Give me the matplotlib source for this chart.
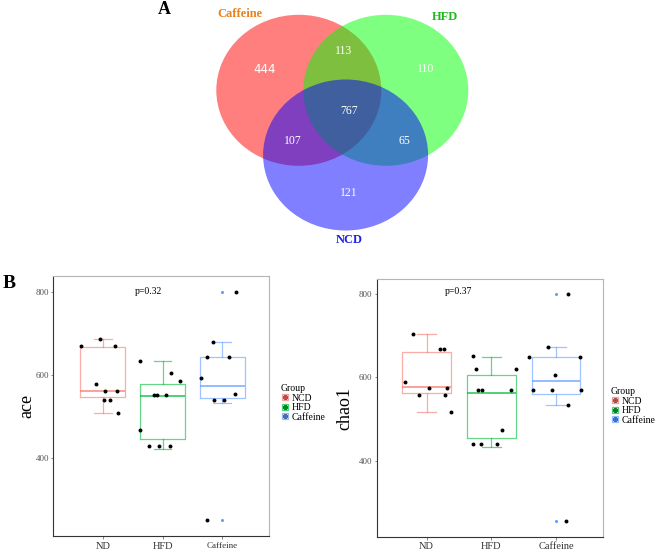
import matplotlib
matplotlib.use("Agg")
import matplotlib.pyplot as plt
from matplotlib.patches import Ellipse
from matplotlib.lines import Line2D

plt.rcParams["font.family"] = ["Liberation Serif", "DejaVu Serif"]

# ---- Venn counts (panel A) ----
venn_sets = ["Caffeine", "HFD", "NCD"]
venn_label_colors = ["#E8821E", "#1DB81D", "#1F1FE0"]
venn_fill = ["#FF0000", "#00FF00", "#0000FF"]
venn_regions = ["Caffeine", "Caffeine&HFD", "HFD", "all", "Caffeine&NCD", "HFD&NCD", "NCD"]
venn_counts = [444, 113, 110, 767, 107, 65, 121]

# ---- boxplot data (panel B) ----
groups = ["ND", "HFD", "Caffeine"]
legend_labels = ["NCD", "HFD", "Caffeine"]
group_colors = ["#F8766D", "#00BA38", "#619CFF"]

ace_q1 = [547, 446, 546]
ace_med = [562, 551, 574]
ace_q3 = [667, 578, 643]
ace_lo = [509, 422, 533]
ace_hi = [688, 634, 680]
ace_fliers = [[], [], [800, 253]]
ace_x = [
    [0.64, 0.96, 1.21, 0.89, 1.03, 1.23, 1.02, 1.12, 1.26],
    [1.63, 2.14, 2.30, 1.85, 1.91, 2.05, 1.62, 1.78, 1.94, 2.12],
    [2.84, 2.74, 3.12, 2.65, 2.87, 3.03, 3.22, 2.75, 3.23],
]
ace_y = [
    [669, 688, 669, 579, 562, 562, 541, 541, 509],
    [635, 604, 586, 552, 552, 552, 468, 431, 431, 431],
    [680, 643, 643, 594, 541, 541, 555, 253, 800],
]
ace_p = "p=0.32"

chao_q1 = [562, 454, 560]
chao_med = [578, 562, 591]
chao_q3 = [661, 606, 650]
chao_lo = [516, 432, 533]
chao_hi = [703, 650, 672]
chao_fliers = [[], [], [801, 255]]
chao_x = [
    [0.79, 1.21, 1.27, 0.66, 1.04, 1.32, 0.89, 1.29, 1.37],
    [1.71, 1.76, 2.38, 1.80, 1.85, 2.30, 2.16, 1.71, 1.84, 2.08],
    [2.87, 2.58, 3.37, 2.99, 2.64, 2.94, 3.38, 3.19, 3.19, 3.15],
]
chao_y = [
    [703, 668, 668, 589, 575, 575, 557, 557, 516],
    [651, 620, 620, 569, 569, 569, 473, 441, 441, 441],
    [672, 650, 650, 606, 569, 569, 569, 533, 801, 255],
]
chao_p = "p=0.37"

fig = plt.figure(figsize=(6.6, 5.54), dpi=100)

# ---- panel A: Venn drawn in a pixel-space overlay axes ----
vax = fig.add_axes([0, 0, 1, 1])
vax.set_xlim(0, 660)
vax.set_ylim(554, 0)
vax.axis("off")
vax.patch.set_alpha(0)

ellipse_centers = [(298.8, 90.3), (385.8, 90.3), (345.6, 155)]
for (cx, cy), col in zip(ellipse_centers, venn_fill):
    vax.add_patch(Ellipse((cx, cy), 165, 151, facecolor=col, alpha=0.5, edgecolor="none"))

region_pos = [(265, 69.5), (344, 50.5), (426, 69.5), (349, 111), (292.5, 140.5), (404.5, 140.5), (349, 192.5)]
for name, cnt, (px, py) in zip(venn_regions, venn_counts, region_pos):
    if name == "Caffeine":
        vax.text(px, py, str(cnt), color="white", fontsize=8.5, ha="center", va="center",
                 family="DejaVu Sans")
    else:
        vax.text(px, py, str(cnt), color="white", fontsize=8.5, ha="center", va="center")

set_label_pos = [(240, 14), (445, 17.5), (349, 240)]
for name, col, (px, py) in zip(venn_sets, venn_label_colors, set_label_pos):
    vax.text(px, py, name, color=col, fontsize=9, fontweight="bold", ha="center", va="center")

vax.text(164, 10, "A", fontsize=13, fontweight="bold", ha="center", va="center")
vax.text(9, 283, "B", fontsize=14, fontweight="bold", ha="center", va="center")


def box_panel(rect, q1, med, q3, lo, hi, fliers, xs, ys, ylabel, ylabelpad, ptext, ptext_xy,
              xlim, ylim, legend_anchor, caff_size):
    ax = fig.add_axes(rect)
    stats = []
    for i in range(3):
        stats.append(dict(q1=q1[i], med=med[i], q3=q3[i], whislo=lo[i], whishi=hi[i],
                          fliers=fliers[i]))
    for i in range(3):
        c = group_colors[i]
        ax.bxp([stats[i]], positions=[i + 1], widths=0.75, capwidths=0.3,
               showfliers=True, patch_artist=False,
               boxprops=dict(color=c, alpha=0.6, lw=0.9),
               whiskerprops=dict(color=c, alpha=0.6, lw=0.9),
               capprops=dict(color=c, alpha=0.6, lw=0.9),
               medianprops=dict(color=c, alpha=0.8, lw=1.2),
               flierprops=dict(marker="o", markersize=2.2, markerfacecolor=c,
                               markeredgecolor="none"))
        ax.scatter(xs[i], ys[i], s=8, color="black", zorder=5, linewidths=0)

    ax.set_xlim(*xlim)
    ax.set_ylim(*ylim)
    ax.set_xticks([1, 2, 3])
    ax.set_xticklabels(groups, fontsize=7.5)
    ax.get_xticklabels()[2].set_fontsize(caff_size)
    ax.set_yticks([400, 600, 800])
    ax.tick_params(axis="y", labelsize=6.5, colors="#555555", length=1.5, width=0.5, pad=1.5)
    ax.tick_params(axis="x", length=2, width=0.5, colors="#555555", pad=2)
    for lbl in ax.get_xticklabels():
        lbl.set_color("#333333")
    ax.set_ylabel(ylabel, fontsize=13, labelpad=ylabelpad)
    for side in ["left", "bottom"]:
        ax.spines[side].set_color("#333333")
        ax.spines[side].set_linewidth(0.8)
    for side in ["top", "right"]:
        ax.spines[side].set_color("#b5b5b5")
        ax.spines[side].set_linewidth(0.8)
    ax.text(ptext_xy[0], ptext_xy[1], ptext, fontsize=7, ha="center", va="center")

    handles = []
    for c in group_colors:
        sq = Line2D([], [], marker="s", markersize=4.5, markerfacecolor="none",
                    markeredgecolor=c, markeredgewidth=0.9, linestyle="none", alpha=0.7)
        dot = Line2D([], [], marker="o", markersize=2.5, color="black", linestyle="none")
        dot2 = Line2D([], [], marker="o", markersize=2.5, color=c, linestyle="none", alpha=0.6)
        handles.append((sq, dot, dot2))
    fig.legend(handles, legend_labels, title="Group", loc="upper left",
               bbox_to_anchor=legend_anchor, frameon=False, fontsize=7,
               title_fontsize=7, handlelength=0.8, handletextpad=0.3,
               labelspacing=0.05, borderpad=0, alignment="left")
    return ax


box_panel([0.0808, 0.0325, 0.3273, 0.4693], ace_q1, ace_med, ace_q3, ace_lo, ace_hi,
          ace_fliers, ace_x, ace_y, "ace", 0.5, ace_p, (1.77, 800), (0.17, 3.79), (214, 838),
          (0.418, 0.315), 6.5)
box_panel([0.5708, 0.0312, 0.3424, 0.4646], chao_q1, chao_med, chao_q3, chao_lo, chao_hi,
          chao_fliers, chao_x, chao_y, "chao1", 4, chao_p, (1.49, 805), (0.23, 3.72),
          (218, 835), (0.918, 0.31), 7.5)

fig.savefig("out.png", dpi=100)
